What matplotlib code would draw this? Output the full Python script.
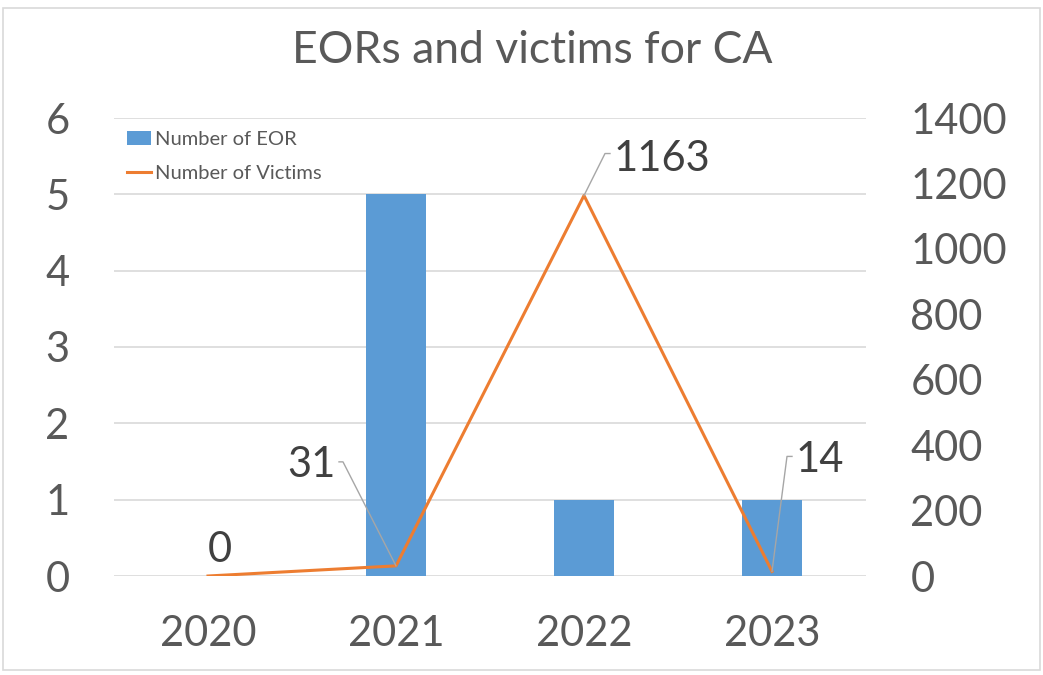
import matplotlib.pyplot as plt
from matplotlib.patches import Rectangle, Patch
from matplotlib.lines import Line2D
from matplotlib.transforms import IdentityTransform
import numpy as np

years = ['2020', '2021', '2022', '2023']
eor_counts = [0, 5, 1, 1]
victims = [0, 31, 1163, 14]

# label placement (offset in pixels from the point): text, leader elbow
label_offsets = [(12, 26), (-60, 101), (30, 37), (24, 111)]
label_ha = ['center', 'right', 'left', 'left']
leader_elbow = [None, (-53, 104), (21, 42), (15, 115)]
leader_end = [None, (-57, 104), (26, 42), (20, 115)]

bar_color = '#5B9BD5'
line_color = '#ED7D31'
grid_color = '#D9D9D9'
text_color = '#595959'

plt.rcParams['font.family'] = ['Lato', 'DejaVu Sans']

fig = plt.figure(figsize=(10.43, 6.75), dpi=100)
fig.patches.append(Rectangle((3 / 1043, 5 / 675), 1037 / 1043, 662 / 675,
                             transform=fig.transFigure, fill=False,
                             edgecolor=grid_color, linewidth=1.2))

ax = fig.add_axes([114 / 1043, 99 / 675, 752 / 1043, 458 / 675])
x = np.arange(len(years))
ax.bar(x, eor_counts, width=0.32, color=bar_color, zorder=2)
ax.set_xlim(-0.5, 3.5)
ax.set_ylim(0, 6)
ax.set_yticks(range(0, 7))
ax.yaxis.grid(True, color=grid_color, linewidth=1.2, zorder=0)
ax.set_axisbelow(True)
ax.set_xticks(x)
ax.set_xticklabels(years)
for s in ax.spines.values():
    s.set_visible(False)
ax.tick_params(axis='y', length=0, labelsize=30, labelcolor=text_color, pad=32)
ax.tick_params(axis='x', length=0, labelsize=30, labelcolor=text_color, pad=28)

ax2 = ax.twinx()
ax2.plot(x, victims, color=line_color, linewidth=2.2, zorder=3)
ax2.set_ylim(0, 1400)
ax2.set_yticks(range(0, 1401, 200))
for s in ax2.spines.values():
    s.set_visible(False)
ax2.tick_params(axis='y', length=0, labelsize=30, labelcolor=text_color, pad=32)

for i in range(len(years)):
    ax2.annotate(str(victims[i]), xy=(x[i], victims[i]), xytext=label_offsets[i],
                 textcoords='offset pixels', ha=label_ha[i], va='center',
                 fontsize=30, color='#404040')
    if leader_elbow[i] is not None:
        px, py = ax2.transData.transform((x[i], victims[i]))
        xs = [px, px + leader_elbow[i][0], px + leader_end[i][0]]
        ys = [py, py + leader_elbow[i][1], py + leader_end[i][1]]
        fig.add_artist(Line2D(xs, ys, color='#A6A6A6', lw=1,
                              transform=IdentityTransform()))

handles = [Patch(facecolor=bar_color), Line2D([0], [0], color=line_color, lw=2.2)]
leg = ax.legend(handles, ['Number of EOR', 'Number of Victims'], loc='upper left',
                bbox_to_anchor=(0.0, 1.0), frameon=False, fontsize=14.5,
                handlelength=1.2, handletextpad=0.2, labelspacing=0.85,
                borderaxespad=0.25)
for t in leg.get_texts():
    t.set_color(text_color)

fig.text(0.51, 0.925, 'EORs and victims for CA', ha='center', va='center',
         fontsize=32, color=text_color)

fig.savefig('out.png', dpi=100)
